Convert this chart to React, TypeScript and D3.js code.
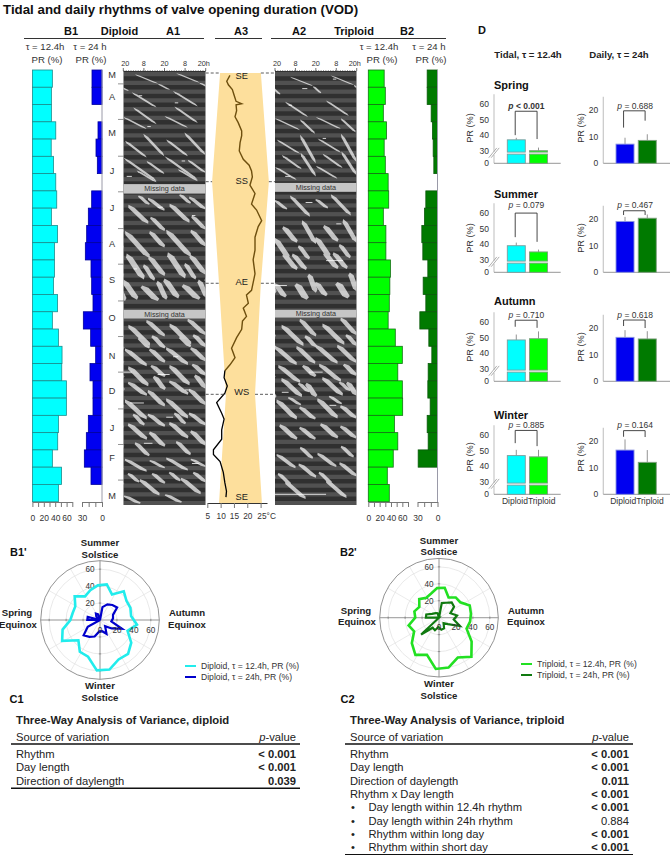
import { useEffect, useRef } from 'react'
import * as d3 from 'd3'

// rows of B1/B2, also the spokes of the polar plots (starts at spring equinox)
const tidalDiploid = [35, 33.3, 33.3, 41, 33, 37, 41, 42.7, 33.3, 44, 38.6, 38.6, 37, 44, 35, 45.6, 52, 51.5, 59.6, 59.6, 45.6, 44.4, 35, 51, 45.6]
const dailyDiploid = [15, 15, 0, 6, 9, 7, 0, 15.5, 20.5, 23, 25, 16.5, 15.5, 13.5, 28, 17, 9.5, 18, 13.5, 13.5, 20.5, 23.5, 26.5, 16.5, 0]
const tidalTriploid = [28, 30, 26.5, 32, 28, 30, 35, 36, 26.5, 31, 31, 39, 38, 37, 35, 47.6, 60, 52, 60, 60.6, 46, 52, 44, 33.5, 37]
const dailyTriploid = [15.5, 15.5, 9.5, 7.5, 6.5, 5.5, 0, 17.5, 19.5, 23.5, 22, 14.5, 21.5, 17.5, 26.5, 13, 8.5, 14, 14.5, 11, 15.5, 14, 29, 0, 0]

const monthLetters = ['M', 'A', 'M', 'J', 'J', 'A', 'S', 'O', 'N', 'D', 'J', 'F', 'M']
const monthLabelDays = [2, 21, 51, 83, 114, 145, 175, 207, 239, 269, 300, 325, 357]
const monthTickDays = [10, 40, 71, 101, 132, 162, 193, 223, 253, 284, 314, 344]

// actogram streaks: [hour, day, hour, day, width], drawn double plotted
type Streak = [number, number, number, number, number]
const streaksA1: Streak[] = [
  [6.8, 2, 20.4, 10, 1.5], [20.4, 10, 27, 15, 1.5], [4.9, 17, 19.4, 30, 1.6], [5.8, 30, 19.4, 44, 1.6],
  [0, 38, 13.6, 48, 1.6], [11.6, 52, 23.9, 71, 1.7], [1, 58, 13.6, 72, 1.7], [0, 72, 19.4, 92, 1.8],
  [13.6, 75, 23.9, 86, 1.7], [7.8, 83, 19.4, 93, 1.6], [14.5, 106, 23.9, 117, 2.6], [3, 112, 14.5, 128, 3],
  [16, 122, 24, 134, 2.6], [9, 104, 15, 112, 2.2], [1, 134, 15.5, 157, 3.2], [15.5, 134, 23.9, 148, 2.8],
  [2, 153, 12, 175, 3.2], [15, 155, 24, 172, 3], [12, 162, 18, 176, 2.4], [0, 175, 8, 192, 3.2],
  [11, 180, 20, 193, 3.8], [20, 176, 25, 192, 2.6], [13.6, 209, 24, 223, 3], [3, 213, 15.5, 231, 3.2],
  [17, 222, 24, 233, 2.8], [1, 233, 13.6, 248, 3.2], [15.5, 233, 24, 245, 3], [9, 224, 15, 233, 2.4],
  [3, 248, 14.5, 265, 3.2], [16.5, 247, 24, 257, 3], [18, 256, 24, 268, 2.8], [3, 261, 13.6, 273, 3.2],
  [14.5, 268, 24, 282, 3], [1, 276, 13.6, 293, 3.2], [14.5, 288, 24, 299, 3], [6, 288, 12, 298, 2.4],
  [3, 296, 13.6, 310, 3.2], [15.5, 303, 24, 316, 3], [7, 312, 15, 324, 2.6], [1, 326, 13.6, 337, 3],
  [15.5, 327, 24, 334, 2.6], [17, 338, 24, 347, 2.6], [3, 338, 9, 346, 2.4], [9.7, 343, 21, 357, 3], [0.6, 357, 9.7, 364, 3],
]
const streaksA2: Streak[] = [
  [8.8, 4, 22.5, 12, 1.4], [22.5, 12, 27, 18, 1.3], [5.9, 25, 19.4, 38, 1.5], [0, 39, 14.7, 49, 1.5],
  [14.7, 40, 23.5, 52, 1.4], [1, 57, 14.7, 69, 1.5], [14.7, 53, 24, 77, 1.6], [4, 70, 15.7, 82, 1.6],
  [0, 80, 12.7, 91, 1.6], [15, 68, 24, 88, 1.6], [8.8, 104, 20.6, 122, 2.2], [0, 108, 6.9, 116, 2.2],
  [4.9, 130, 12.7, 144, 3], [0, 140, 8, 157, 3], [16, 125, 24, 145, 2.4], [5, 153, 12.7, 167, 3],
  [14, 146, 20, 158, 2.4], [10.4, 153, 18.2, 167, 2.8], [12.7, 178, 18.6, 192, 3.6], [0, 178, 6, 190, 3],
  [20, 170, 24, 186, 2.6], [14.7, 208, 24, 223, 2.8], [3.9, 213, 16.7, 231, 3.2], [0, 231, 12.7, 247, 3.2],
  [12.7, 231, 23.5, 246, 3], [18, 222, 24, 232, 2.6], [2, 247, 14.7, 262, 3.2], [16.7, 247, 23.5, 257, 3],
  [3.9, 258, 15.7, 274, 3.2], [18.6, 262, 24, 274, 2.8], [14, 262, 20, 270, 2.4], [1, 276, 12.7, 293, 3.2],
  [14.7, 282, 23.5, 293, 3], [8, 274, 15, 281, 2.4], [3, 297, 12.7, 310, 3.2], [14.7, 299, 23.5, 310, 3],
  [1, 322, 12, 334, 2.8], [14, 330, 24, 342, 2.8], [15, 316, 22, 326, 2.4], [2, 338, 9, 348, 2.4], [6, 345, 18, 360, 2.8],
]
// short white gaps in the record: [hour, day, length in hours]
const gapsA1 = [[9, 20, 2], [30, 26, 2], [14, 46, 2], [34, 75, 2], [2, 88, 3], [20, 114, 3], [40, 121, 2], [6, 166, 2], [29, 240, 3], [0, 253, 5], [20, 255, 7], [36, 268, 3], [4, 279, 8], [25, 291, 4], [12, 313, 5], [40, 330, 4]]
const gapsA2 = [[16, 14, 3], [34, 6, 2], [8, 28, 2], [28, 56, 2], [6, 88, 3], [18, 110, 4], [36, 128, 3], [30, 159, 10], [0, 180, 7], [20, 253, 8], [4, 270, 4], [32, 281, 4], [0, 356, 30]]
const missingA1 = [[94.5, 102.5], [200.5, 207.8]]
const missingA2 = [[93.5, 101], [200.5, 207]]

// sea temperature along the year, [day, deg C]
const tempWarm = [[2, 13.5], [7, 12.3], [10, 12.9], [14, 14.4], [19, 15.1], [24, 15.8], [26, 17.9], [27, 15.8], [32, 16], [37, 15.4], [42, 16.6], [49, 17.9], [53, 17.9], [59, 17.3], [66, 17], [73, 18.5], [78, 20.7], [83, 21.6], [88, 21.9], [95, 21], [102, 22.9], [111, 21.6], [116, 23.5], [125, 25.4], [130, 24.1], [139, 22.9], [150, 22.9], [158, 22.2], [170, 22.9], [184, 21.6], [188, 19.7], [195, 20.4], [199, 18.5], [206, 19.7], [210, 18.2], [217, 17.9], [224, 16], [233, 14.1], [241, 15.4], [247, 13.5], [252, 11.6]]
const tempCold = [[252, 11.6], [258, 11.3], [265, 12.5], [271, 11.6], [279, 8.5], [288, 10.4], [293, 11.3], [302, 10.4], [310, 10.4], [319, 7.3], [323, 7.3], [329, 9.8], [338, 11], [347, 11.6], [354, 12.2], [359, 12]]
// photoperiod band, [day, left, right] in the temperature axis units
const dayLengthBand = [[0, 9.8, 25.1], [92, 6.8, 28.1], [178, 9.4, 25.1], [272, 12, 22.9], [364, 9.4, 25.5]]
const seasonMarks = [['SE', 0, 76], ['SS', 92, 181], ['AE', 178, 282], ['WS', 272, 392], ['SE', 364, 497]]

// panel D
const seasons = ['Spring', 'Summer', 'Autumn', 'Winter']
const groups = ['Diploid', 'Triploid']
const tidalMeans = [[37, 30], [39, 35], [48.5, 49.3], [46.8, 46]]
const tidalErrTops = [[38.3, 32], [41, 36.5], [52, 54], [50.5, 50.5]]
const dailyMeans = [[7.2, 8.6], [19.1, 20.3], [16.5, 15.9], [16.6, 12]]
const dailyErrTops = [[9.6, 10.9], [20.8, 21.7], [19.2, 18.8], [20.6, 16.6]]
const tidalP = ['< 0.001', '= 0.079', '= 0.710', '= 0.885']
const dailyP = ['= 0.688', '= 0.467', '= 0.618', '= 0.164']
const tidalBrackets = [[55.4, 40, 37.5], [60, 44.5, 41.5], [61.2, 57, 56.3], [63, 54.8, 52.9]]
const dailyBrackets = [[19.7, 13.4, 16], [23.1, 21.5, 21.5], [23, 20.75, 20], [23.9, 21.6, 21.5]]

// tables
const tableDiploid = [['Rhythm', '< 0.001', 'b'], ['Day length', '< 0.001', 'b'], ['Direction of daylength', '0.039', 'b']]
const tableTriploid = [
  ['Rhythm', '< 0.001', 'b'], ['Day length', '< 0.001', 'b'], ['Direction of daylength', '0.011', 'b'], ['Rhythm x Day length', '< 0.001', 'b'],
  ['• Day length within 12.4h rhythm', '< 0.001', 'b'], ['• Day length within 24h rhythm', '0.884', ''], ['• Rhythm within long day', '< 0.001', 'b'], ['• Rhythm within short day', '< 0.001', 'b'],
]

const FONT = '"Liberation Sans", Arial, sans-serif'
type Sel = d3.Selection<SVGGElement, unknown, null, undefined>

function label(g: Sel, x: number, y: number, s: string, size: number, opts: { bold?: boolean; anchor?: string; fill?: string; rotate?: boolean; italic?: boolean } = {}) {
  const t = g.append('text')
    .attr('font-size', size)
    .attr('font-weight', opts.bold ? 'bold' : 'normal')
    .attr('font-style', opts.italic ? 'italic' : 'normal')
    .attr('text-anchor', opts.anchor ?? 'middle')
    .attr('fill', opts.fill ?? '#222')
    .text(s)
  if (opts.rotate) t.attr('transform', `translate(${x},${y}) rotate(-90)`)
  else t.attr('x', x).attr('y', y)
  return t
}

function styleAxis(ax: Sel, size: number) {
  ax.attr('font-family', FONT).attr('font-size', size)
  ax.selectAll('.domain').attr('stroke', '#777')
  ax.selectAll('line').attr('stroke', '#777')
  ax.selectAll('text').attr('fill', '#333')
}

// one column of horizontal bars plus its value axis
function barColumn(g: Sel, values: number[], zero: number, full: number, max: number, ticks: number[], shown: number[], fill: string, stroke: string) {
  const x = d3.scaleLinear().domain([0, max]).range([zero, full])
  const y = d3.scaleBand<number>().domain(d3.range(values.length)).range([70, 501.7])
  values.forEach((v, i) => {
    if (!v) return
    g.append('rect')
      .attr('x', Math.min(x(0), x(v))).attr('y', y(i)!)
      .attr('width', Math.abs(x(v) - x(0))).attr('height', y.bandwidth())
      .attr('fill', fill).attr('stroke', stroke).attr('stroke-width', 0.8)
  })
  const ax = g.append('g').attr('transform', 'translate(0,502)')
    .call(d3.axisBottom(x).tickValues(ticks).tickSize(5).tickSizeOuter(0).tickPadding(7.5)
      .tickFormat(d => (shown.includes(+d) ? String(d) : '')))
  styleAxis(ax, 8.5)
}

function actogram(root: Sel, id: string, x0: number, x1: number, streaks: Streak[], gaps: number[][], missing: number[][]) {
  const x = d3.scaleLinear().domain([0, 48]).range([x0, x1])
  const y = d3.scaleLinear().domain([0, 365]).range([72, 505])
  const dayPx = y(1) - y(0)

  root.append('clipPath').attr('id', id).append('rect')
    .attr('x', x0).attr('y', 71).attr('width', x1 - x0).attr('height', 434)
  const g = root.append('g').attr('clip-path', `url(#${id})`)
  g.append('rect').attr('x', x0).attr('y', 71).attr('width', x1 - x0).attr('height', 434).attr('fill', '#303030')

  const soft = g.append('g').attr('filter', 'url(#soft)')
  const poly = d3.line().curve(d3.curveLinearClosed)
  streaks.forEach(s => {
    ;[-24, 0, 24, 48].forEach(off => {
      const xa = x(s[0] + off), xb = x(s[2] + off)
      const ya = y(s[1] - off / 24), yb = y(s[3] - off / 24)
      const w = s[4] * 1.05
      // capsule shaped streak, tapered at both ends
      const at = (f: number): [number, number] => [xa + (xb - xa) * f, ya + (yb - ya) * f]
      const [q1x, q1y] = at(0.15)
      const [q3x, q3y] = at(0.85)
      soft.append('path')
        .attr('d', poly([[xa, ya], [q1x + w, q1y], [q3x + w, q3y], [xb, yb], [q3x - w, q3y], [q1x - w, q1y]]))
        .attr('fill', '#c2c2c2')
    })
  })
  // weekly banding of the record
  d3.range(0, 365, 7.38).forEach(d => {
    g.append('rect').attr('x', x0).attr('y', y(d)).attr('width', x1 - x0).attr('height', 3.6 * dayPx)
      .attr('fill', '#fff').attr('opacity', 0.16)
  })
  gaps.forEach(s => {
    g.append('line').attr('x1', x(s[0])).attr('x2', x(s[0] + s[2])).attr('y1', y(s[1])).attr('y2', y(s[1]))
      .attr('stroke', '#fff').attr('stroke-width', 0.8)
  })
  missing.forEach(m => {
    g.append('rect').attr('x', x0).attr('y', y(m[0])).attr('width', x1 - x0).attr('height', y(m[1]) - y(m[0]))
      .attr('fill', '#c6c6c6').attr('filter', 'url(#soft)')
    label(root, (x0 + x1) / 2, (y(m[0]) + y(m[1])) / 2 + 2.6, 'Missing data', 7.2, { fill: '#333' })
  })

  // top hour axis
  root.append('line').attr('x1', x0).attr('x2', x1).attr('y1', 71).attr('y2', 71)
    .attr('stroke', '#333').attr('stroke-dasharray', '1 1.4')
  ;[0, 12, 24, 36, 48].forEach((h, i) => {
    root.append('line').attr('x1', x(h)).attr('x2', x(h)).attr('y1', 68).attr('y2', 71).attr('stroke', '#333').attr('stroke-width', 0.7)
    const s = i % 2 ? '8' : '20'
    const cx = i === 0 ? x(h) + 2 : i === 4 ? x(h) - 4 : x(h)
    label(root, cx, 66, s, 7.3, { fill: '#333' })
  })
  label(root, x1, 66, 'h', 7.3, { anchor: 'start', fill: '#333' })
}

function dottedMark(g: Sel, x1: number, x2: number, y: number) {
  g.append('line').attr('x1', x1).attr('x2', x2).attr('y1', y).attr('y2', y)
    .attr('stroke', '#333').attr('stroke-dasharray', '3 2').attr('stroke-width', 0.8)
}

function panelA3(g: Sel) {
  const y = d3.scaleLinear().domain([0, 364]).range([73, 503])
  const x = d3.scaleLinear().domain([5, 25]).range([207.3, 260.6])
  const band = d3.area<number[]>().y(d => y(d[0])).x0(d => x(d[1])).x1(d => x(d[2]))
  g.append('path').datum(dayLengthBand).attr('d', band).attr('fill', '#fddf9c')

  const line = d3.line<number[]>().x(d => x(d[1])).y(d => y(d[0]))
  g.append('path').datum(tempWarm).attr('d', line).attr('fill', 'none').attr('stroke', '#6e4f0e').attr('stroke-width', 1.4)
  g.append('path').datum(tempCold).attr('d', line).attr('fill', 'none').attr('stroke', '#000').attr('stroke-width', 1.3)

  seasonMarks.forEach(([name, day, labelY]) => {
    const yy = y(day as number)
    if ((day as number) < 300) {
      const row = dayLengthBand.find(b => b[0] === day)!
      dottedMark(g, 205.7, x(row[1]), yy)
      dottedMark(g, x(row[2]), 275, yy)
    }
    label(g, 241.8, (labelY as number) + 3.3, name as string, 9.3, { fill: '#222' })
  })

  const ax = g.append('g').attr('transform', 'translate(0,503)')
    .call(d3.axisBottom(d3.scaleLinear().domain([5, 27.4]).range([207.3, 267])).tickValues([5, 10, 15, 20, 25])
      .tickSize(5).tickSizeOuter(0).tickPadding(5.5).tickFormat(d => (+d === 25 ? '25°C' : String(d))))
  styleAxis(ax, 8.3)
  ax.selectAll('.domain').attr('stroke', '#333')
  ax.selectAll<SVGTextElement, number>('text').attr('dx', d => (d === 25 ? 5.5 : 0))
}

function seasonBars(g: Sel, idx: number, base: number, left: number, barRange: [number, number], tidal: boolean) {
  const y = tidal
    ? d3.scaleLinear().domain([0, 30, 66.3]).range([base, base - 12.6, base - 69])
    : d3.scaleLinear().domain([0, 25]).range([base, base - 66.6])
  const x = d3.scaleBand<string>().domain(groups).range(barRange).paddingInner(0.19)
  const means = tidal ? tidalMeans[idx] : dailyMeans[idx]
  const tops = tidal ? tidalErrTops[idx] : dailyErrTops[idx]
  const fills = tidal ? ['#00ffff', '#00ff00'] : ['#0000f0', '#007a00']
  const strokes = tidal ? ['#7f9c9c', '#7f9c7f'] : ['#8c96e0', '#7fa07f']

  const topY = tidal ? y(66.3) : y(25)
  g.append('line').attr('x1', left).attr('x2', left).attr('y1', topY).attr('y2', base).attr('stroke', '#c8c8c8').attr('stroke-width', 1.2)
  g.append('line').attr('x1', left).attr('x2', left + 66.7).attr('y1', base).attr('y2', base).attr('stroke', '#8a8a8a').attr('stroke-width', 0.9)

  groups.forEach((name, i) => {
    const bx = x(name)!, cx = bx + x.bandwidth() / 2
    g.append('line').attr('x1', cx).attr('x2', cx).attr('y1', y(tops[i])).attr('y2', y(means[i])).attr('stroke', '#888').attr('stroke-width', 0.9)
    const parts = tidal ? [[y(means[i]), base - 11.2], [base - 9.2, base]] : [[y(means[i]), base]]
    parts.forEach(p => {
      g.append('rect').attr('x', bx).attr('y', p[0]).attr('width', x.bandwidth()).attr('height', Math.max(0, p[1] - p[0]))
        .attr('fill', fills[i]).attr('stroke', strokes[i]).attr('stroke-width', 0.9)
    })
  })

  const tickVals = tidal ? [0, 30, 40, 50, 60] : [0, 10, 20]
  tickVals.forEach(v => label(g, left - 5, y(v) + 3, String(v), 8.5, { anchor: 'end', fill: '#333' }))

  if (tidal) {
    // axis break
    g.append('rect').attr('x', left - 3).attr('y', base - 11.5).attr('width', 6).attr('height', 3).attr('fill', '#fff')
    ;[-1.2, 1.2].forEach(dx => {
      g.append('line').attr('x1', left - 4 + dx).attr('x2', left + 4 + dx).attr('y1', base - 5.6).attr('y2', base - 15.4)
        .attr('stroke', '#999').attr('stroke-width', 0.8)
    })
  }

  const b = tidal ? tidalBrackets[idx] : dailyBrackets[idx]
  const cx0 = x('Diploid')! + x.bandwidth() * (tidal ? 0.44 : 0.42)
  const cx1 = x('Triploid')! + x.bandwidth() * (tidal ? 0.42 : 0.38)
  g.append('path').attr('d', d3.line()([[cx0, y(b[1])], [cx0, y(b[0])], [cx1, y(b[0])], [cx1, y(b[2])]]))
    .attr('fill', 'none').attr('stroke', '#333').attr('stroke-width', 0.9)

  const txt = tidal ? tidalP[idx] : dailyP[idx]
  const strong = txt.startsWith('<')
  const raise = [54.3, 64.3, 63.3, 66.3][idx]
  const t = label(g, (barRange[0] + barRange[1]) / 2 - 1, base - raise, '', 8.5, { bold: strong, fill: '#333' })
  t.append('tspan').attr('font-style', 'italic').text('p')
  t.append('tspan').text(' ' + txt)
  if (idx === 3) {
    const mid = (x('Diploid')! + x.bandwidth() + x('Triploid')!) / 2
    label(g, mid + (tidal ? 0.5 : 0), 503.5, 'Diploid', 8.5, { anchor: 'end', fill: '#333' })
    label(g, mid + (tidal ? 0.5 : 0), 503.5, 'Triploid', 8.5, { anchor: 'start', fill: '#333' })
  }
}

function polar(g: Sel, cx: number, cy: number, tidal: number[], daily: number[], colTidal: string, colDaily: string) {
  const r = d3.scaleLinear().domain([0, 70]).range([0, 59.3])
  const p = g.append('g').attr('transform', `translate(${cx},${cy})`)
  d3.range(0, 360, 30).forEach(a => {
    const rad = (a * Math.PI) / 180
    p.append('line').attr('x2', r(70) * Math.sin(rad)).attr('y2', -r(70) * Math.cos(rad)).attr('stroke', '#e2e2e2').attr('stroke-width', 0.7)
  })
  ;[20, 40, 60].forEach(v => p.append('circle').attr('r', r(v)).attr('fill', 'none').attr('stroke', '#e0e0e0').attr('stroke-width', 0.7))
  p.append('circle').attr('r', r(70)).attr('fill', 'none').attr('stroke', '#777').attr('stroke-width', 0.8)
  p.append('line').attr('x1', -r(70)).attr('x2', r(70)).attr('stroke', '#888').attr('stroke-width', 0.8)
  p.append('line').attr('y1', -r(70)).attr('y2', r(70)).attr('stroke', '#888').attr('stroke-width', 0.8)
  d3.range(-60, 61, 20).filter(v => v !== 0).forEach(v => {
    p.append('line').attr('x1', r(v)).attr('x2', r(v)).attr('y1', -1.2).attr('y2', 1.2).attr('stroke', '#777').attr('stroke-width', 0.7)
    p.append('line').attr('y1', r(v)).attr('y2', r(v)).attr('x1', -1.2).attr('x2', 1.2).attr('stroke', '#777').attr('stroke-width', 0.7)
  })
  const radial = d3.lineRadial<number>()
    .angle((_, i) => (3 * Math.PI) / 2 + (i * 2 * Math.PI) / tidal.length)
    .radius(d => r(d))
    .curve(d3.curveLinearClosed)
  ;[20, 40, 60].forEach(v => {
    label(p, -10, -r(v) + 3, String(v), 8.2, { fill: '#333' })
  })
  p.append('path').datum(tidal).attr('d', radial).attr('fill', 'none').attr('stroke', colTidal).attr('stroke-width', 2.6).attr('stroke-linejoin', 'miter')
  p.append('path').datum(daily).attr('d', radial).attr('fill', 'none').attr('stroke', colDaily).attr('stroke-width', 2.2).attr('stroke-linejoin', 'miter')
  ;[0, 20, 40, 60].forEach(v => {
    label(p, r(v), 12.5, String(v), 8.2, { fill: '#333' })
  })
}

function polarLabels(g: Sel, cx: number, cy: number) {
  const o = { bold: true, fill: '#222' }
  label(g, cx, cy - 74, 'Summer', 9.6, o)
  label(g, cx, cy - 62.5, 'Solstice', 9.6, o)
  label(g, cx - 83, cy - 4, 'Spring', 9.6, o)
  label(g, cx - 82, cy + 7.5, 'Equinox', 9.6, o)
  label(g, cx + 87, cy - 4, 'Autumn', 9.6, o)
  label(g, cx + 87, cy + 7.5, 'Equinox', 9.6, o)
  label(g, cx, cy + 69, 'Winter', 9.6, o)
  label(g, cx, cy + 81, 'Solstice', 9.6, o)
}

function legend(g: Sel, x: number, y: number, rows: [string, string][]) {
  rows.forEach(([col, s], i) => {
    const yy = y + i * 11
    g.append('line').attr('x1', x).attr('x2', x + 11).attr('y1', yy).attr('y2', yy).attr('stroke', col).attr('stroke-width', 2)
    label(g, x + 16, yy + 3, s, 8.6, { anchor: 'start', fill: '#333' })
  })
}

function anovaTable(g: Sel, x0: number, x1: number, title: string, rows: string[][]) {
  const fs = 11.2
  label(g, x0 + 5, 724, title, 11.3, { bold: true, anchor: 'start', fill: '#222' })
  label(g, x0 + 5, 741, 'Source of variation', fs, { anchor: 'start', fill: '#222' })
  const pv = label(g, x1 - 4, 741, '', fs, { anchor: 'end', fill: '#222' })
  pv.append('tspan').attr('font-style', 'italic').text('p')
  pv.append('tspan').text('-value')
  g.append('line').attr('x1', x0).attr('x2', x1).attr('y1', 744).attr('y2', 744).attr('stroke', '#111').attr('stroke-width', 1.6)
  const y = d3.scaleLinear().domain([0, 1]).range([758, 771.3])
  rows.forEach((r, i) => {
    const bullet = r[0].startsWith('•')
    if (bullet) {
      label(g, x0 + 6, y(i), '•', fs, { anchor: 'start', fill: '#222' })
      label(g, x0 + 23.5, y(i), r[0].slice(2), fs, { anchor: 'start', fill: '#222' })
    } else {
      label(g, x0 + 5, y(i), r[0], fs, { anchor: 'start', fill: '#222' })
    }
    label(g, x1 - 4, y(i), r[1], fs, { anchor: 'end', bold: r[2] === 'b', fill: '#222' })
  })
  const end = y(rows.length - 1) + 3.6
  g.append('line').attr('x1', x0).attr('x2', x1).attr('y1', end).attr('y2', end).attr('stroke', '#111').attr('stroke-width', 1.4)
}

export default function App() {
  const svgRef = useRef<SVGSVGElement>(null)

  useEffect(() => {
    if (!svgRef.current) return
    const svg = d3.select(svgRef.current)
    svg.selectAll('*').remove()
    svg.append('defs').append('filter').attr('id', 'soft').append('feGaussianBlur').attr('stdDeviation', 0.35)
    const g = svg.append('g').attr('font-family', FONT) as unknown as Sel

    label(g, 3, 13.5, 'Tidal and daily rhythms of valve opening duration (VOD)', 13.3, { bold: true, anchor: 'start', fill: '#111' })

    // header strip
    ;[['B1', 71], ['Diploid', 119.5], ['A1', 173], ['A3', 241], ['A2', 299], ['Triploid', 354], ['B2', 407]].forEach(([s, x]) =>
      label(g, x as number, 35, s as string, 11, { bold: true, fill: '#111' }))
    ;[[24, 204], [215, 262], [271, 446]].forEach(([a, b]) =>
      g.append('line').attr('x1', a).attr('x2', b).attr('y1', 38.5).attr('y2', 38.5).attr('stroke', '#333').attr('stroke-width', 1.1))
    ;[[45, 'τ = 12.4h', 49.5], [47, 'PR (%)', 62.5], [90, 'τ = 24 h', 49.5], [91, 'PR (%)', 62.5], [379, 'τ = 12.4h', 49.5], [382, 'PR (%)', 62.5], [429, 'τ = 24 h', 49.5], [431, 'PR (%)', 62.5]].forEach(([x, s, y]) =>
      label(g, x as number, y as number, s as string, 9.6, { fill: '#333' }))

    // B columns
    barColumn(g, tidalDiploid, 32.4, 72.3, 70, d3.range(0, 71, 10), [0, 20, 40, 60], '#00ffff', '#1a8c8c')
    barColumn(g, dailyDiploid, 102, 82, 30, [0, 10, 20, 30], [0, 30], '#0000f0', '#00009c')
    barColumn(g, tidalTriploid, 368.3, 408, 70, d3.range(0, 71, 10), [0, 20, 40, 60], '#00ff00', '#157015')
    barColumn(g, dailyTriploid, 437.5, 417.5, 30, [0, 10, 20, 30], [0, 30], '#007a00', '#0a5a0a')
    ;[102, 437.5].forEach(x => g.append('line').attr('x1', x).attr('x2', x).attr('y1', 70).attr('y2', 502).attr('stroke', '#9a9aa8').attr('stroke-width', 1))

    // months
    const dayY = d3.scaleLinear().domain([0, 365]).range([72, 505])
    monthLetters.forEach((m, i) => label(g, 112, dayY(monthLabelDays[i]) + 3.3, m, 9.2, { fill: '#333' }))
    monthTickDays.forEach(d => g.append('line').attr('x1', 118).attr('x2', 123.5).attr('y1', dayY(d)).attr('y2', dayY(d)).attr('stroke', '#666').attr('stroke-width', 0.7))

    actogram(g, 'clipA1', 123.3, 205.7, streaksA1, gapsA1, missingA1)
    actogram(g, 'clipA2', 275, 356.7, streaksA2, gapsA2, missingA2)
    panelA3(g)

    // panel D
    label(g, 482, 34, 'D', 11, { bold: true, fill: '#111' })
    label(g, 528, 57.5, 'Tidal, τ = 12.4h', 9.6, { bold: true, fill: '#222' })
    label(g, 619, 57.5, 'Daily, τ = 24h', 9.6, { bold: true, fill: '#222' })
    const bases = [163.3, 272.3, 381.3, 494.3]
    const titleYs = [89, 198, 304.7, 418.7]
    const labelYs = [128, 238, 347, 457]
    seasons.forEach((s, i) => {
      label(g, 494, titleYs[i], s, 11, { bold: true, anchor: 'start', fill: '#111' })
      label(g, 473, labelYs[i], 'PR (%)', 9.2, { rotate: true, fill: '#333' })
      label(g, 584, labelYs[i], 'PR (%)', 9.2, { rotate: true, fill: '#333' })
      seasonBars(g, i, bases[i], 494, [507.3, 547.5], true)
      seasonBars(g, i, bases[i], 603.3, [616, 656.3], false)
    })

    // polar plots
    label(g, 10, 556, "B1'", 11, { bold: true, anchor: 'start', fill: '#111' })
    label(g, 340, 556, "B2'", 11, { bold: true, anchor: 'start', fill: '#111' })
    polar(g, 100, 620, tidalDiploid, dailyDiploid, '#22ecec', '#0000cc')
    polar(g, 439, 617.7, tidalTriploid, dailyTriploid, '#22e022', '#107a10')
    polarLabels(g, 100, 620)
    polarLabels(g, 439, 617.7)
    legend(g, 185, 666, [['#22ecec', 'Diploid, τ = 12.4h, PR (%)'], ['#0000cc', 'Diploid, τ = 24h, PR (%)']])
    legend(g, 521, 664, [['#22e022', 'Triploid, τ = 12.4h, PR (%)'], ['#107a10', 'Triploid, τ = 24h, PR (%)']])

    // tables
    label(g, 9.5, 703, 'C1', 11, { bold: true, anchor: 'start', fill: '#111' })
    label(g, 340.5, 703, 'C2', 11, { bold: true, anchor: 'start', fill: '#111' })
    anovaTable(g, 11, 300, 'Three-Way Analysis of Variance, diploid', tableDiploid)
    anovaTable(g, 345, 633, 'Three-Way Analysis of Variance, triploid', tableTriploid)
  }, [])

  return <svg ref={svgRef} width={670} height={855} style={{ position: 'absolute', left: 0, top: 0, background: '#fff' }} />
}
